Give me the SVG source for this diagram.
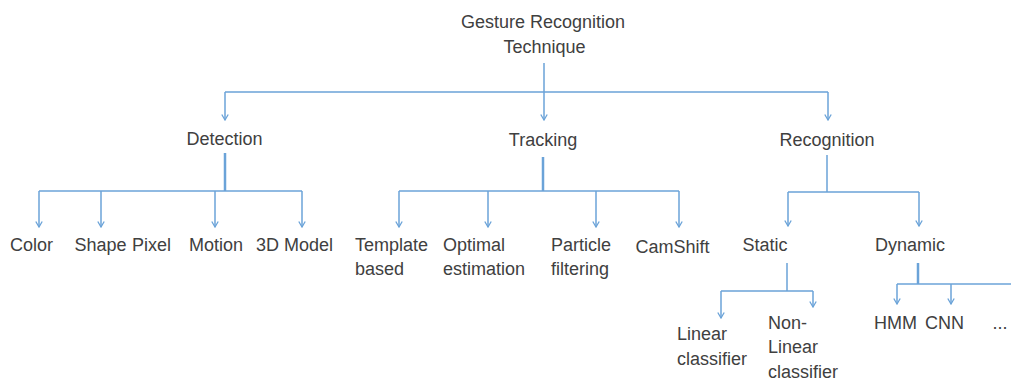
<svg xmlns="http://www.w3.org/2000/svg" width="1011" height="381" viewBox="0 0 1011 381">
<style>
.t{font-family:"Liberation Sans",Arial,sans-serif;font-size:18px;fill:#404040}
.m{text-anchor:middle}
.c{fill:none;stroke:#6BA3D8;stroke-width:1.5}
.k{stroke-width:2.5}
</style>
<defs>
<marker id="ah" viewBox="0 0 8 8" refX="7" refY="4" markerWidth="8" markerHeight="8" markerUnits="userSpaceOnUse" orient="auto">
<path d="M1.5,0.8 L7,4 L1.5,7.2" fill="none" stroke="#6BA3D8" stroke-width="1.3"/>
</marker>
</defs>
<rect width="1011" height="381" fill="#fff"/>
<g id="connectors">
<path class="c" d="M544,63 V92 M225,92 H828"/>
<path class="c" d="M225,92 V120" marker-end="url(#ah)"/>
<path class="c" d="M544,92 V120" marker-end="url(#ah)"/>
<path class="c" d="M828,92 V120" marker-end="url(#ah)"/>
<path class="c k" d="M225,153 V191"/>
<path class="c" d="M39,191 H302"/>
<path class="c" d="M39,191 V227" marker-end="url(#ah)"/>
<path class="c" d="M101,191 V227" marker-end="url(#ah)"/>
<path class="c" d="M215,191 V227" marker-end="url(#ah)"/>
<path class="c" d="M302,191 V227" marker-end="url(#ah)"/>
<path class="c k" d="M543,157 V191"/>
<path class="c" d="M399,191 H679"/>
<path class="c" d="M399,191 V227" marker-end="url(#ah)"/>
<path class="c" d="M488,191 V227" marker-end="url(#ah)"/>
<path class="c" d="M596,191 V227" marker-end="url(#ah)"/>
<path class="c" d="M679,191 V227" marker-end="url(#ah)"/>
<path class="c" d="M827,155 V192 M788,192 H919"/>
<path class="c" d="M788,192 V226" marker-end="url(#ah)"/>
<path class="c" d="M919,192 V226" marker-end="url(#ah)"/>
<path class="c" d="M787,263 V291 M721,291 H813"/>
<path class="c" d="M721,291 V318" marker-end="url(#ah)"/>
<path class="c" d="M813,291 V307" marker-end="url(#ah)"/>
<path class="c k" d="M918,263 V284"/>
<path class="c" d="M897,284 H1015"/>
<path class="c" d="M897,284 V304" marker-end="url(#ah)"/>
<path class="c" d="M951,284 V304" marker-end="url(#ah)"/>
</g>
<g id="root"><text class="t m" x="543" y="28">Gesture Recognition</text><text class="t m" x="544.5" y="53">Technique</text></g>
<g id="detection"><text class="t m" x="224.5" y="145">Detection</text></g>
<g id="tracking"><text class="t m" x="543" y="146">Tracking</text></g>
<g id="recognition"><text class="t m" x="827" y="146">Recognition</text></g>
<g id="color"><text class="t m" x="31.5" y="251">Color</text></g>
<g id="shape"><text class="t m" x="100.5" y="251">Shape</text></g>
<g id="pixel"><text class="t m" x="151.5" y="251">Pixel</text></g>
<g id="motion"><text class="t m" x="216" y="251">Motion</text></g>
<g id="model3d"><text class="t m" x="294.5" y="251">3D Model</text></g>
<g id="template"><text class="t" x="355" y="250.5">Template</text><text class="t" x="355" y="275">based</text></g>
<g id="optimal"><text class="t" x="443" y="250.5">Optimal</text><text class="t" x="443" y="275">estimation</text></g>
<g id="particle"><text class="t" x="551" y="250.5">Particle</text><text class="t" x="551" y="275">filtering</text></g>
<g id="camshift"><text class="t m" x="672.5" y="253">CamShift</text></g>
<g id="static"><text class="t m" x="765" y="251">Static</text></g>
<g id="dynamic"><text class="t m" x="910" y="251">Dynamic</text></g>
<g id="linear"><text class="t" x="677" y="340">Linear</text><text class="t" x="677" y="365">classifier</text></g>
<g id="nonlinear"><text class="t" x="768" y="329">Non-</text><text class="t" x="768" y="353">Linear</text><text class="t" x="768" y="378">classifier</text></g>
<g id="hmm"><text class="t m" x="895.5" y="329">HMM</text></g>
<g id="cnn"><text class="t m" x="944.5" y="329">CNN</text></g>
<g id="more"><text class="t m" x="1000" y="329">...</text></g>
</svg>
